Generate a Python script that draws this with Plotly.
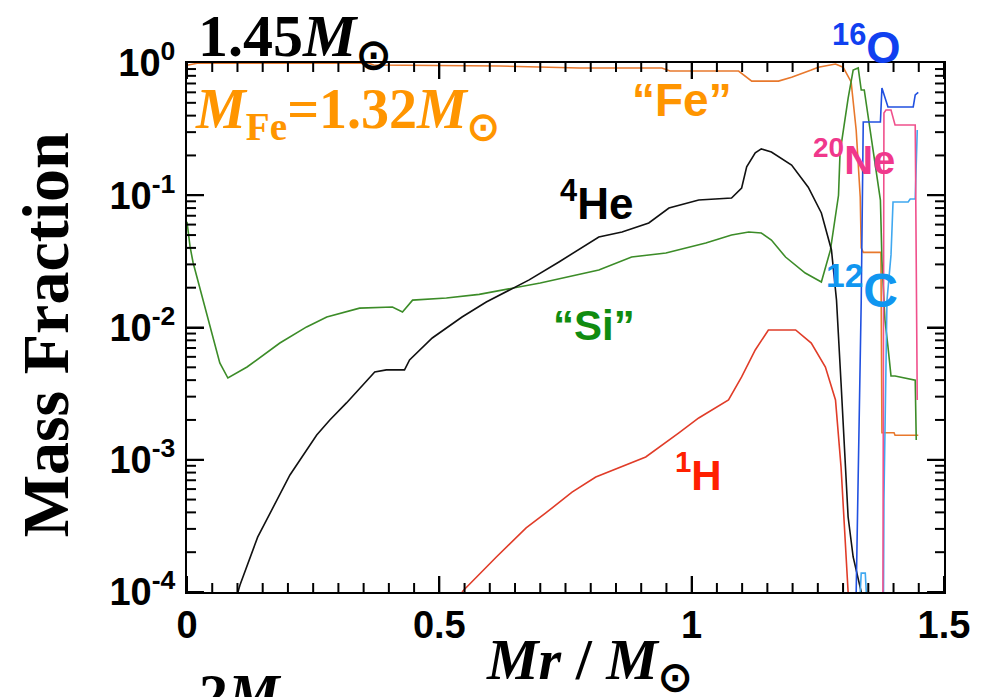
import math
import plotly.graph_objects as go

# ---------------- data ----------------
fe_x = [0.0, 0.02, 0.36, 0.37, 0.619, 0.777, 0.941, 0.957, 1.093, 1.119, 1.172, 1.198,
        1.237, 1.251, 1.285, 1.300, 1.316, 1.326, 1.334, 1.336, 1.340, 1.375, 1.377,
        1.401, 1.403, 1.449]
fe_y = [0.96, 0.995, 0.995, 0.966, 0.949, 0.917, 0.917, 0.87, 0.87, 0.73, 0.73, 0.78,
        0.885, 0.93, 0.983, 0.93, 0.72, 0.31, 0.097, 0.04, 0.037, 0.037, 0.0016,
        0.0016, 0.00153, 0.00153]

si_x = [0.0, 0.006, 0.012, 0.040, 0.065, 0.081, 0.119, 0.184, 0.237, 0.277, 0.342,
        0.407, 0.427, 0.447, 0.514, 0.579, 0.70, 0.816, 0.881, 0.949, 1.028, 1.079,
        1.113, 1.138, 1.158, 1.186, 1.225, 1.257, 1.275, 1.291, 1.294, 1.310, 1.320,
        1.330, 1.336, 1.342, 1.374, 1.377, 1.383, 1.389, 1.395, 1.403, 1.443, 1.445,
        1.449]
si_y = [0.063, 0.041, 0.031, 0.012, 0.0054, 0.00415, 0.00503, 0.00763, 0.0101, 0.0120,
        0.0140, 0.0143, 0.0131, 0.0161, 0.0167, 0.0178, 0.0217, 0.0272, 0.0341, 0.0366,
        0.0435, 0.050, 0.0527, 0.0518, 0.0459, 0.0341, 0.0258, 0.0221, 0.0386, 0.10,
        0.21, 0.54, 0.885, 0.917, 0.625, 0.625, 0.092, 0.0324, 0.0114, 0.00713,
        0.0043, 0.0043, 0.004, 0.00141]

he_x = [0.101, 0.105, 0.140, 0.178, 0.204, 0.257, 0.283, 0.316, 0.372, 0.395, 0.431,
        0.441, 0.486, 0.545, 0.593, 0.678, 0.737, 0.816, 0.862, 0.915, 0.955, 1.014,
        1.079, 1.099, 1.109, 1.126, 1.138, 1.158, 1.198, 1.231, 1.257, 1.277, 1.287,
        1.296, 1.306, 1.310, 1.320, 1.330, 1.336]
he_y = [1e-4, 1.13e-4, 2.6e-4, 4.97e-4, 7.67e-4, 1.54e-3, 2.0e-3, 2.69e-3, 4.61e-3,
        4.78e-3, 4.78e-3, 5.68e-3, 8.33e-3, 0.0120, 0.0156, 0.0229, 0.0313, 0.0483,
        0.0527, 0.0617, 0.080, 0.092, 0.0953, 0.1135, 0.164, 0.209, 0.224, 0.212,
        0.169, 0.115, 0.0734, 0.0386, 0.0161, 0.0038, 6.67e-4, 3.69e-4, 1.84e-4,
        1.23e-4, 1e-4]

h_x = [0.545, 0.549, 0.613, 0.672, 0.711, 0.763, 0.810, 0.909, 0.974, 1.014, 1.073,
       1.099, 1.126, 1.152, 1.206, 1.237, 1.265, 1.285, 1.296, 1.304, 1.310]
h_y = [1e-4, 1.04e-4, 1.84e-4, 3.05e-4, 3.96e-4, 5.70e-4, 7.41e-4, 1.05e-3, 1.59e-3,
       2.07e-3, 2.83e-3, 4.23e-3, 6.76e-3, 9.58e-3, 9.58e-3, 7.63e-3, 5.03e-3,
       2.83e-3, 8.8e-4, 2.79e-4, 1e-4]

o_x = [1.326, 1.336, 1.340, 1.374, 1.377, 1.383, 1.389, 1.439, 1.443, 1.449]
o_y = [1e-4, 0.016, 0.358, 0.358, 0.647, 0.544, 0.465, 0.465, 0.573, 0.60]

ne_x = [1.379, 1.381, 1.385, 1.395, 1.403, 1.443, 1.447]
ne_y = [1e-4, 0.419, 0.441, 0.441, 0.34, 0.34, 0.00283]

c_x = [1.334, 1.336, 1.344, 1.346, 1.36, 1.379, 1.381, 1.387, 1.395, 1.399, 1.429,
       1.433, 1.443, 1.447]
c_y = [1e-4, 1.39e-4, 1.39e-4, 1e-4, 1e-5, 1e-5, 5e-4, 0.016, 0.0354, 0.0889, 0.0889,
       0.0937, 0.0937, 0.311]

y_tickvals = [1e-4, 1e-3, 1e-2, 1e-1, 1]
y_ticktext = ["10<sup>-4</sup>", "10<sup>-3</sup>", "10<sup>-2</sup>",
              "10<sup>-1</sup>", "10<sup>0</sup>"]
x_tickvals = [0, 0.5, 1, 1.5]
x_ticktext = ["0", "0.5", "1", "1.5"]

# ---------------- figure ----------------
fig = go.Figure()

XMIN, XMAX = 0.0, 1.5
YLOG_MIN, YLOG_MAX = -4, 0
W_PLOT, H_PLOT = 759, 529

series = [
    (fe_x, fe_y, "#e8782c"),
    (si_x, si_y, "#3c8c28"),
    (he_x, he_y, "#111111"),
    (h_x, h_y, "#e03c28"),
    (c_x, c_y, "#40a8f0"),
    (o_x, o_y, "#2050e0"),
    (ne_x, ne_y, "#f0508c"),
]
for xs, ys, col in series:
    fig.add_trace(go.Scatter(x=xs, y=ys, mode="lines",
                             line=dict(color=col, width=1.6), showlegend=False))

# inside tick marks (ROOT style) on all four sides, one short segment per tick
dx_per_px = (XMAX - XMIN) / W_PLOT
dlog_per_px = (YLOG_MAX - YLOG_MIN) / H_PLOT
lo, hi = 10 ** YLOG_MIN, 10 ** YLOG_MAX
for i in range(31):
    xv = XMIN + 0.05 * i
    ln = 16 if i % 10 == 0 else 9
    f = 10 ** (ln * dlog_per_px)
    for ys in ([lo, lo * f], [hi, hi / f]):
        fig.add_trace(go.Scatter(x=[xv, xv], y=ys, mode="lines", cliponaxis=False,
                                 line=dict(color="black", width=2),
                                 hoverinfo="skip", showlegend=False))
for e in range(YLOG_MIN, YLOG_MAX):
    for k in range(1, 10):
        yv = k * 10 ** e
        ln = 17 if k == 1 else 9
        for xs in ([XMIN, XMIN + ln * dx_per_px], [XMAX, XMAX - ln * dx_per_px]):
            fig.add_trace(go.Scatter(x=xs, y=[yv, yv], mode="lines", cliponaxis=False,
                                     line=dict(color="black", width=2),
                                     hoverinfo="skip", showlegend=False))

axis_common = dict(ticks="inside", tickcolor="black", tickwidth=2, mirror="ticks",
                   showline=True, linecolor="black", linewidth=2,
                   showgrid=False, zeroline=False)

fig.update_layout(
    width=982, height=697,
    margin=dict(l=187, r=36, t=63, b=105),
    plot_bgcolor="white", paper_bgcolor="white",
    xaxis=dict(range=[XMIN, XMAX], tickmode="array", tickvals=x_tickvals,
               ticktext=x_ticktext, ticklen=16, ticklabelstandoff=-2,
               tickfont=dict(family="Liberation Sans", size=38, color="black", weight="bold"),
               **axis_common),
    yaxis=dict(type="log", range=[YLOG_MIN, YLOG_MAX], tickmode="array",
               tickvals=y_tickvals, ticktext=y_ticktext, ticklen=17, ticklabelstandoff=2,
               tickfont=dict(family="Liberation Sans", size=38, color="black", weight="bold"),
               **axis_common),
)

serif = "Liberation Serif"
sans = "Liberation Sans"


def px(xp):
    return (xp - 187) / 759.0


def py(yp):
    return (592 - yp) / 529.0


def ann(text, xp, yp, size, color, family, xanchor="center", angle=0):
    fig.add_annotation(text=text, x=px(xp), y=py(yp), xref="paper", yref="paper",
                       showarrow=False, xanchor=xanchor, yanchor="middle", textangle=angle,
                       font=dict(family=family, size=size, color=color, weight="bold"))


ann("1.45<i>M</i><sub>⊙</sub>", 196, 40, 60, "black", serif, xanchor="left")
ann("<i>M</i><sub>Fe</sub>=1.32<i>M</i><sub>⊙</sub>", 193, 113, 56, "#ff9500", serif, xanchor="left")
ann("“Fe”", 683, 100, 46, "#ff9500", sans)
ann("<sup>4</sup>He", 598, 200, 44, "black", sans)
ann("“Si”", 595, 325, 42, "#108c10", sans)
ann("<sup>1</sup>H", 700, 472, 42, "#ff2000", sans)
ann("<sup>16</sup>O", 868, 45, 44, "#1040f0", sans)
ann("<sup>20</sup>Ne", 856, 157, 40, "#f0388c", sans)
ann("<sup>12</sup>C", 864, 287, 48, "#1096f0", sans)
ann("Mass Fraction", 45, 335, 66, "black", serif, angle=-90)
ann("<i>Mr</i> / <i>M</i><sub>⊙</sub>", 590, 663, 58, "black", serif)
ann("2<i>M</i>", 197, 694, 58, "black", serif, xanchor="left")

fig.write_html("out.html")
